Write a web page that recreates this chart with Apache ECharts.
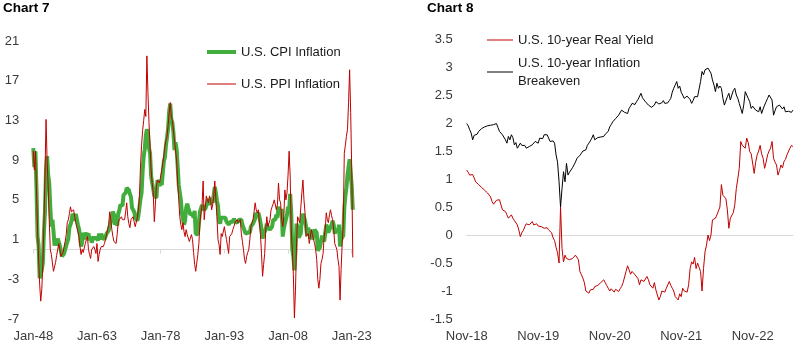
<!DOCTYPE html>
<html>
<head>
<meta charset="utf-8">
<script src="https://cdn.jsdelivr.net/npm/echarts@6/dist/echarts.min.js"></script>
<style>
    html, body { margin: 0; padding: 0; background: #fff; }
    #main { width: 801px; height: 349px; }
</style>
</head>
<body>
<div id="main"></div>
<script>
// Chart 7 - y/y inflation, one value per quarter (Jan, Apr, Jul, Oct), Jan-48 .. Apr-23
var cpiInflation = [
    10.2, 8.3, 9.9, 6.1,   1.3, 0.4, -2.9, -2.9,   -2.1, -1.3, 1.7, 3.8,   8.1, 9.4, 7.5, 6.7,    // 1948-51
    4.3, 2.3, 3.0, 1.9,    0.4, 0.8, 0.4, 1.1,     1.1, 0.4, 0.4, -0.7,    -0.7, -0.4, -0.4, 0.4, // 1952-55
    0.4, 1.1, 2.2, 2.5,    2.9, 3.6, 3.3, 2.9,     3.6, 3.6, 2.5, 2.1,     1.4, 0.3, 0.7, 1.7,    // 1956-59
    1.0, 1.7, 1.4, 1.3,    1.6, 0.9, 1.3, 0.7,     0.7, 1.3, 1.0, 1.3,     1.3, 0.9, 1.6, 1.0,    // 1960-63
    1.6, 1.3, 1.3, 1.0,    1.0, 1.6, 1.6, 1.9,     1.9, 2.8, 2.8, 3.8,     3.5, 2.5, 2.8, 2.4,    // 1964-67
    3.6, 3.9, 4.5, 4.5,    4.4, 5.5, 5.4, 5.7,     6.2, 6.1, 6.0, 5.6,     5.3, 4.2, 4.4, 3.8,    // 1968-71
    3.3, 3.5, 2.9, 3.4,    3.6, 5.1, 5.7, 7.9,     9.4, 10.1, 11.5, 12.1,  11.8, 10.2, 9.7, 7.4,  // 1972-75
    6.7, 6.1, 5.4, 5.5,    5.2, 7.0, 6.8, 6.4,     6.8, 6.5, 7.7, 8.9,     9.3, 10.5, 11.3, 12.2, // 1976-79
    13.9, 14.7, 13.1, 12.8, 11.8, 10.0, 10.8, 10.1, 8.4, 6.5, 6.4, 5.0,    3.7, 3.9, 2.5, 2.9,    // 1980-83
    4.2, 4.6, 4.2, 4.3,    3.5, 3.7, 3.6, 3.2,     3.9, 1.6, 1.6, 1.5,     1.5, 3.8, 3.9, 4.5,    // 1984-87
    4.0, 3.9, 4.1, 4.2,    4.7, 5.1, 5.0, 4.5,     5.2, 4.7, 4.8, 6.3,     5.7, 4.9, 4.4, 2.9,    // 1988-91
    2.6, 3.2, 3.2, 3.2,    3.3, 3.2, 2.8, 2.8,     2.5, 2.4, 2.8, 2.6,     2.8, 3.1, 2.8, 2.8,    // 1992-95
    2.7, 2.9, 3.0, 3.0,    3.0, 2.5, 2.2, 2.1,     1.6, 1.4, 1.7, 1.5,     1.7, 2.3, 2.1, 2.6,    // 1996-99
    2.7, 3.1, 3.7, 3.4,    3.7, 3.3, 2.7, 2.1,     1.1, 1.6, 1.5, 2.0,     2.6, 2.2, 2.1, 2.0,    // 2000-03
    1.9, 2.3, 3.0, 3.2,    3.0, 3.5, 3.2, 4.3,     4.0, 3.5, 4.1, 1.3,     2.1, 2.6, 2.4, 3.5,    // 2004-07
    4.3, 3.9, 5.6, 3.7,    0.0, -0.7, -2.1, -0.2,  2.6, 2.2, 1.2, 1.2,     1.6, 3.2, 3.6, 3.5,    // 2008-11
    2.9, 2.3, 1.4, 2.2,    1.6, 1.1, 2.0, 1.0,     1.6, 2.0, 2.0, 1.7,     -0.1, -0.2, 0.2, 0.2,  // 2012-15
    1.4, 1.1, 0.8, 1.6,    2.5, 2.2, 1.7, 2.0,     2.1, 2.5, 2.9, 2.5,     1.6, 2.0, 1.8, 1.8,    // 2016-19
    2.5, 0.3, 1.0, 1.2,    1.4, 4.2, 5.4, 6.2,     7.5, 8.3, 9.1, 7.7,     6.4, 4.0               // 2020-23
];
var ppiInflation = [
    9.9, 8.0, 9.9, 6.0,    2.0, -1.0, -3.5, -5.2,  -4.0, -1.5, 2.5, 7.5,   13.1, 9.0, 6.4, 3.0,   // 1948-51
    0.0, -0.5, -0.7, -2.2, -2.0, -1.3, -0.6, 0.0,  0.6, 0.0, -0.7, -0.5,   -0.3, 0.3, 0.8, 1.5,   // 1952-55
    2.7, 3.0, 3.6, 4.3,    3.8, 3.7, 4.0, 3.3,     2.7, 2.7, 1.8, 1.3,     0.3, -0.5, 0.0, -0.3,  // 1956-59
    -0.5, 0.6, 1.0, 1.3,   0.0, -0.5, -0.9, 0.0,   0.0, 0.3, 0.0, -0.4,    0.6, -1.2, -0.5, 0.0,  // 1960-63
    0.3, 0.3, 0.3, 0.6,    1.0, 1.5, 2.0, 2.5,     3.8, 3.0, 2.0, 1.3,     0.8, 0.6, 0.6, 1.5,    // 1964-67
    2.7, 3.0, 3.2, 3.3,    3.0, 2.8, 3.0, 3.8,     4.7, 3.3, 2.6, 2.2,     3.0, 3.2, 3.3, 2.8,    // 1968-71
    2.3, 2.5, 3.2, 4.0,    5.4, 8.4, 10.5, 12.0,   13.0, 14.1, 13.4, 19.5, 15.8, 12.8, 10.4, 8.0, // 1972-75
    6.7, 5.7, 2.8, 4.5,    6.4, 7.0, 6.8, 6.7,     7.4, 8.0, 8.7, 9.5,     10.4, 11.0, 11.4, 12.5,// 1976-79
    13.8, 14.8, 13.4, 13.0, 12.8, 11.0, 10.0, 9.0, 6.7, 5.0, 3.3, 2.5,     2.0, 2.7, 1.8, 1.3,    // 1980-83
    2.0, 1.5, 1.3, 0.8,    0.6, 1.5, 1.0, -0.3,    -1.5, -2.2, -2.4, -0.5, 0.6, 2.7, 3.7, 4.5,    // 1984-87
    6.9, 3.0, 4.2, 5.4,    5.0, 4.7, 5.4, 5.0,     4.0, 4.5, 5.4, 6.9,     5.0, 3.3, 1.0, 0.5,    // 1988-91
    -0.5, 1.6, 1.3, 1.5,   2.3, 1.6, 1.0, 0.3,     -0.4, 1.3, 1.5, 1.6,    2.0, 2.3, 2.7, 2.9,    // 1992-95
    3.0, 2.7, 2.8, 3.0,    1.6, 0.8, 0.0, -1.0,    -1.4, -0.7, -0.3, 0.0,  1.0, 2.3, 2.7, 3.0,    // 1996-99
    3.8, 4.7, 4.0, 3.7,    4.0, 2.7, 1.5, -0.4,    -2.7, -1.5, -0.4, 2.0,  3.3, 2.3, 2.5, 3.0,    // 2000-03
    4.0, 4.3, 4.6, 5.0,    5.0, 4.0, 4.5, 6.7,     5.0, 4.7, 3.0, 2.3,     3.3, 6.0, 5.0, 5.7,    // 2004-07
    7.5, 9.9, 7.4, 2.0,    0.0, -2.5, -6.9, -4.1,  0.6, 3.3, 3.0, 2.7,     2.7, 5.7, 7.0, 5.0,    // 2008-11
    3.7, 1.3, 1.5, 1.6,    0.6, 0.6, 2.0, 1.5,     1.3, 0.6, 0.0, -1.0,    -3.0, -3.9, -3.0, -1.4,// 2012-15
    -1.0, -0.4, 1.3, 2.0,  3.7, 3.0, 2.7, 3.5,     4.0, 3.4, 3.0, 2.0,     0.6, 0.3, 0.0, -1.0,   // 2016-19
    -1.7, -5.1, -2.0, 0.6, 2.5, 9.7, 10.5, 11.4,   12.1, 14.8, 18.1, 13.8, 8.0, -0.8              // 2020-23
];
var quarterNames = ['Jan', 'Apr', 'Jul', 'Oct'];

// Chart 8 - four readings per month, Nov-18 .. May-23
var realYield = [
    1.16, 1.12, 1.07, 1.05,   1.08, 1.02, 0.95, 0.92,   0.90, 0.88, 0.85, 0.83,   0.80, 0.78, 0.75, 0.72,       // Nov-18 .. Feb-19
    0.68, 0.60, 0.55, 0.57,   0.62, 0.65, 0.63, 0.60,   0.45, 0.48, 0.42, 0.36,   0.30, 0.33, 0.36, 0.30,       // Mar-19 .. Jun-19
    0.26, 0.24, 0.18, 0.09,   -0.03, 0.04, 0.08, 0.15,  0.20, 0.17, 0.18, 0.16,   0.24, 0.18, 0.15, 0.20,       // Jul-19 .. Oct-19
    0.16, 0.18, 0.15, 0.16,   0.12, 0.10, 0.13, 0.09,   0.06, 0.04, -0.05, -0.10, -0.22, -0.32, -0.50, 0.50,    // Nov-19 .. Feb-20
    -0.24, -0.48, -0.36, -0.42, -0.45, -0.44, -0.46, -0.42, -0.40, -0.36, -0.38, -0.44, -0.65, -0.71, -0.77, -0.85, // Mar-20 .. Jun-20
    -1.00, -1.02, -1.04, -0.98, -0.95, -0.97, -0.92, -0.90, -0.90, -0.88, -0.85, -0.82, -0.80, -0.85, -0.90, -0.95, // Jul-20 .. Oct-20
    -1.00, -0.96, -0.98, -1.02, -0.97, -1.00, -1.01, -0.96, -0.92, -0.85, -0.75, -0.65, -0.55, -0.62, -0.70, -0.65, // Nov-20 .. Feb-21
    -0.68, -0.71, -0.72, -0.78, -0.89, -0.80, -0.77, -0.83, -0.80, -0.74, -0.80, -0.89, -0.88, -0.95, -0.85, -0.98, // Mar-21 .. Jun-21
    -1.01, -1.16, -1.10, -1.00, -0.98, -1.02, -0.95, -0.97, -0.83, -0.90, -0.95, -1.00, -1.10, -1.12, -1.16, -1.05, // Jul-21 .. Oct-21
    -1.10, -0.95, -1.00, -0.98, -1.02, -0.89, -0.60, -0.48, -0.52, -0.40, -0.60, -0.50, -0.48, -0.65, -1.00, -0.60, // Nov-21 .. Feb-22
    -0.30, -0.18, 0.00, -0.10, 0.00, 0.27, 0.24, 0.30,  0.36, 0.38, 0.50, 0.90,   0.71, 0.68, 0.65, 0.45,       // Mar-22 .. Jun-22
    0.12, 0.30, 0.28, 0.40,   0.54, 0.83, 1.00, 1.19,   1.67, 1.60, 1.62, 1.55,   1.73, 1.65, 1.49, 1.45,       // Jul-22 .. Oct-22
    1.43, 1.10, 1.30, 1.43,   1.50, 1.60, 1.45, 1.37,   1.19, 1.30, 1.43, 1.50,   1.55, 1.67, 1.37, 1.30,       // Nov-22 .. Feb-23
    1.25, 1.07, 1.15, 1.25,   1.20, 1.31, 1.35, 1.43,   1.45, 1.55, 1.60, 1.58                                  // Mar-23 .. May-23
];
var inflationBreakeven = [
    1.99, 1.95, 1.88, 1.82,   1.70, 1.78, 1.75, 1.80,   1.85, 1.88, 1.90, 1.89,   1.93, 1.92, 1.95, 1.93,
    1.96, 1.93, 1.97, 1.99,   1.99, 1.92, 1.85, 1.82,   1.79, 1.82, 1.70, 1.64,   1.76, 1.70, 1.79, 1.74,
    1.61, 1.65, 1.55, 1.58,   1.64, 1.60, 1.58, 1.60,   1.55, 1.52, 1.58, 1.60,   1.61, 1.64, 1.67, 1.65,
    1.64, 1.73, 1.70, 1.72,   1.79, 1.77, 1.79, 1.76,   1.67, 1.70, 1.68, 1.64,   1.43, 1.30, 0.95, 0.50,
    0.83, 1.13, 0.95, 1.28,   1.07, 1.12, 1.16, 1.20,   1.25, 1.30, 1.37, 1.40,   1.42, 1.46, 1.50, 1.52,
    1.52, 1.60, 1.64, 1.68,   1.73, 1.79, 1.70, 1.72,   1.74, 1.76, 1.75, 1.76,   1.76, 1.80, 1.82, 1.85,
    1.93, 1.97, 2.02, 2.04,   2.08, 2.10, 2.14, 2.16,   2.23, 2.20, 2.19, 2.17,   2.17, 2.26, 2.30, 2.35,
    2.34, 2.33, 2.38, 2.42,   2.44, 2.53, 2.45, 2.42,   2.38, 2.35, 2.32, 2.30,   2.28, 2.26, 2.32, 2.38,
    2.38, 2.34, 2.32, 2.36,   2.40, 2.35, 2.32, 2.36,   2.40, 2.44, 2.55, 2.62,   2.68, 2.74, 2.62, 2.66,
    2.55, 2.50, 2.44, 2.46,   2.48, 2.50, 2.42, 2.35,   2.40, 2.47, 2.45, 2.47,   2.47, 2.74, 2.92, 2.86,
    2.95, 2.92, 2.98, 2.98,   2.89, 2.77, 2.68, 2.56,   2.71, 2.62, 2.66, 2.62,   2.44, 2.32, 2.35, 2.47,
    2.53, 2.41, 2.50, 2.58,   2.62, 2.50, 2.44, 2.35,   2.26, 2.17, 2.32, 2.56,   2.59, 2.44, 2.38, 2.26,
    2.30, 2.32, 2.23, 2.26,   2.20, 2.29, 2.17, 2.25,   2.32, 2.38, 2.44, 2.50,   2.53, 2.41, 2.14, 2.22,
    2.29, 2.28, 2.32, 2.30,   2.25, 2.29, 2.20, 2.23,   2.21, 2.20, 2.19, 2.23
];
var monthNames = ['Jan', 'Feb', 'Mar', 'Apr', 'May', 'Jun', 'Jul', 'Aug', 'Sep', 'Oct', 'Nov', 'Dec'];

var FONT = 'Liberation Sans';
var LABEL_COLOR = '#3a3a3a';
var GREEN = '#41ad3c';
var DARK_RED = '#c00000';
var ZERO_LINE = '#d9d9d9';

// quarter labels for chart 7: Jan-48, Apr-48 ...
var quarterCats = [];
for (var i = 0; i < cpiInflation.length; i++) {
    var yr = 1948 + Math.floor(i / 4);
    quarterCats.push(quarterNames[i % 4] + '-' + String(yr).slice(2));
}

// weekly labels for chart 8: "Nov-18", "Nov-18 2" ...
var weekCats = [];
for (var j = 0; j < realYield.length; j++) {
    var m = 10 + Math.floor(j / 4);           // Nov 2018 = month 10 of 2018
    var label = monthNames[m % 12] + '-' + String(2018 + Math.floor(m / 12)).slice(2);
    weekCats.push(j % 4 === 0 ? label : label + ' ' + (j % 4 + 1));
}

function axisText() {
    return {fontFamily: FONT, fontSize: 13, color: LABEL_COLOR};
}

// one legend per series, drawn as a flat bar so it looks like a plain line sample
function legendFor(name, left, top, width, lineWidth, extraText) {
    var ts = {fontFamily: FONT, fontSize: 13, color: '#1a1a1a', lineHeight: 18};
    if (extraText) {
        for (var k in extraText) ts[k] = extraText[k];
    }
    return {
        data: [{name: name, icon: 'rect'}],
        orient: 'vertical',
        left: left,
        top: top,
        padding: 0,
        itemWidth: width,
        itemHeight: lineWidth,
        textStyle: ts,
        selectedMode: false
    };
}

var myChart = echarts.init(document.getElementById('main'), null, {renderer: 'canvas'});

var option = {
    animation: false,
    backgroundColor: '#fff',
    title: [
        {text: 'Chart 7', left: 3, top: 1, padding: 0, textStyle: {fontFamily: FONT, fontSize: 13.5, fontWeight: 'bold', color: '#000'}},
        {text: 'Chart 8', left: 427, top: 1, padding: 0, textStyle: {fontFamily: FONT, fontSize: 13.5, fontWeight: 'bold', color: '#000'}}
    ],
    legend: [
        legendFor('U.S. CPI Inflation', 207, 43, 29, 4),
        legendFor('U.S. PPI Inflation', 207, 75, 29, 1),
        legendFor('U.S. 10-year Real Yield', 487, 31, 26, 1),
        legendFor('U.S. 10-year Inflation\nBreakeven', 487, 45, 26, 1, {padding: [18, 0, 0, 0]})
    ],
    grid: [
        {left: 33.3, top: 41, width: 319.5, height: 278},
        {left: 466.7, top: 39, width: 326.2, height: 280}
    ],
    xAxis: [
        // axis line at zero with small ticks, no labels
        {
            type: 'category', gridIndex: 0, data: quarterCats, boundaryGap: false,
            axisLine: {onZero: true, onZeroAxisIndex: 0, lineStyle: {color: ZERO_LINE, width: 1}},
            axisTick: {show: true, interval: 59, length: 4, lineStyle: {color: ZERO_LINE}},
            axisLabel: {show: false}, splitLine: {show: false}
        },
        // labels at the bottom
        {
            type: 'category', gridIndex: 0, data: quarterCats, boundaryGap: false, position: 'bottom',
            axisLine: {show: false, onZero: false}, axisTick: {show: false}, splitLine: {show: false},
            axisLabel: Object.assign({interval: 59, margin: 11}, axisText())
        },
        {
            type: 'category', gridIndex: 1, data: weekCats, boundaryGap: false,
            axisLine: {onZero: true, onZeroAxisIndex: 1, lineStyle: {color: ZERO_LINE, width: 1}},
            axisTick: {show: false}, axisLabel: {show: false}, splitLine: {show: false}
        },
        {
            type: 'category', gridIndex: 1, data: weekCats, boundaryGap: false, position: 'bottom',
            axisLine: {show: false, onZero: false}, axisTick: {show: false}, splitLine: {show: false},
            axisLabel: Object.assign({
                interval: 47, margin: 11,
                formatter: function (v) { return v.split(' ')[0]; }
            }, axisText())
        }
    ],
    yAxis: [
        {
            type: 'value', gridIndex: 0, min: -7, max: 21, interval: 4,
            axisLine: {show: false}, axisTick: {show: false}, splitLine: {show: false},
            axisLabel: Object.assign({margin: 14}, axisText())
        },
        {
            type: 'value', gridIndex: 1, min: -1.5, max: 3.5, interval: 0.5,
            axisLine: {show: false}, axisTick: {show: false}, splitLine: {show: false},
            axisLabel: Object.assign({margin: 14}, axisText())
        }
    ],
    series: [
        {
            name: 'U.S. CPI Inflation', type: 'line', xAxisIndex: 0, yAxisIndex: 0,
            data: cpiInflation, symbol: 'none', color: GREEN,
            lineStyle: {width: 4, color: GREEN}
        },
        {
            name: 'U.S. PPI Inflation', type: 'line', xAxisIndex: 0, yAxisIndex: 0,
            data: ppiInflation, symbol: 'none', color: DARK_RED,
            lineStyle: {width: 1, color: DARK_RED}
        },
        {
            name: 'U.S. 10-year Real Yield', type: 'line', xAxisIndex: 2, yAxisIndex: 1,
            data: realYield, symbol: 'none', color: DARK_RED,
            lineStyle: {width: 1, color: DARK_RED}
        },
        {
            name: 'U.S. 10-year Inflation\nBreakeven', type: 'line', xAxisIndex: 2, yAxisIndex: 1,
            data: inflationBreakeven, symbol: 'none', color: '#000',
            lineStyle: {width: 1, color: '#000'}
        }
    ]
};

myChart.setOption(option);
</script>
</body>
</html>
